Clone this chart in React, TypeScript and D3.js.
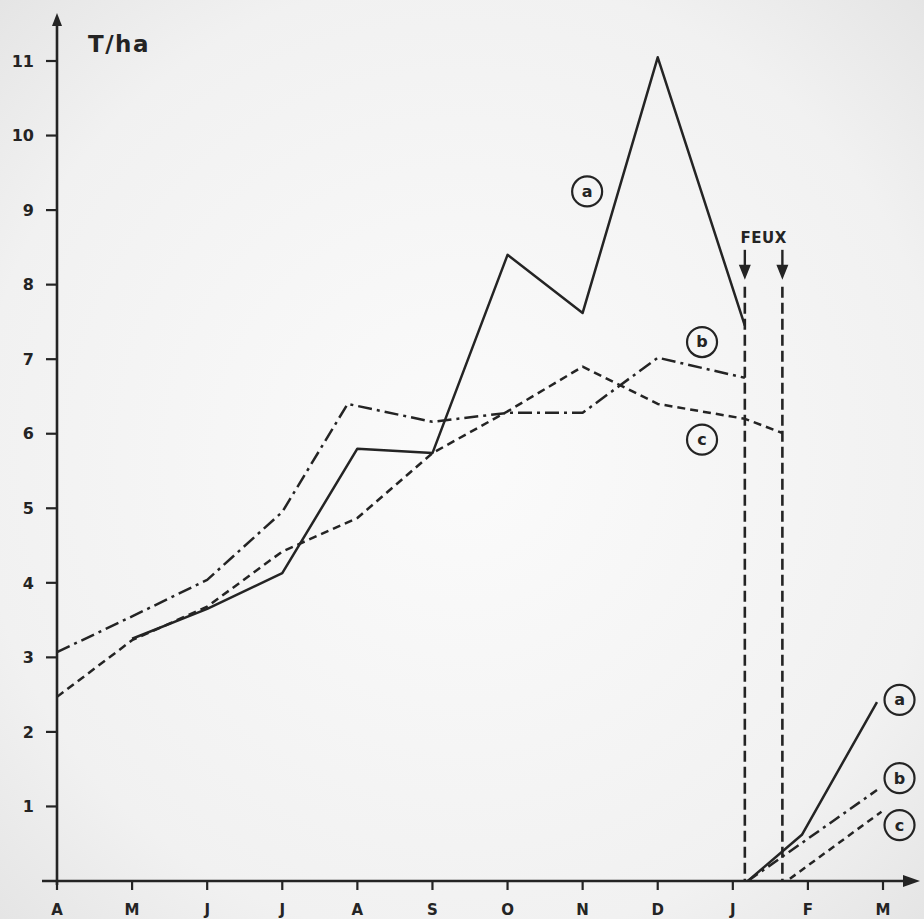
import React from 'react';
import * as d3 from 'd3';

// month labels on the x axis (April to March)
const months = ['A', 'M', 'J', 'J', 'A', 'S', 'O', 'N', 'D', 'J', 'F', 'M'];
const yTicks = [1, 2, 3, 4, 5, 6, 7, 8, 9, 10, 11];

// dates of the two fires, as month positions
const fireDates = [9.16, 9.66];

// series before the fires (x = month position, y = T/ha)
const aX = [1, 2, 3, 4, 5, 6, 7, 8, 9.16];
const aY = [3.25, 3.65, 4.13, 5.8, 5.74, 8.4, 7.62, 11.05, 7.45];
const bX = [0, 1, 2, 3, 3.87, 5, 6, 7, 8, 9.16];
const bY = [3.07, 3.55, 4.04, 4.95, 6.4, 6.16, 6.28, 6.28, 7.02, 6.75];
const cX = [0, 1, 2, 3, 4, 5, 6, 7, 8, 9.16, 9.66];
const cY = [2.47, 3.23, 3.68, 4.42, 4.87, 5.74, 6.3, 6.9, 6.4, 6.2, 6.01];

// regrowth after the fires
const a2X = [9.2, 9.92, 10.92];
const a2Y = [0, 0.62, 2.4];
const b2X = [9.2, 10.92];
const b2Y = [0, 1.22];
const c2X = [9.76, 10.98];
const c2Y = [0.03, 0.93];

// circled labels [letter, x, y]
const labels: [string, number, number][] = [
  ['a', 7.06, 9.25],
  ['b', 8.59, 7.23],
  ['c', 8.59, 5.92],
  ['a', 11.22, 2.43],
  ['b', 11.22, 1.38],
  ['c', 11.22, 0.75],
];

const W = 924;
const H = 919;
const ink = '#242424';
const font = '"DejaVu Sans", sans-serif';

export default function App() {
  const x = d3.scaleLinear().domain([0, 11]).range([57, 883]);
  const y = d3.scaleLinear().domain([0, 11]).range([881, 61]);

  const line = d3.line<[number, number]>()
    .x(d => x(d[0]))
    .y(d => y(d[1]));
  const path = (xs: number[], ys: number[]) => line(xs.map((v, i) => [v, ys[i]]) as [number, number][]) || '';

  const series = [
    { d: path(aX, aY), dash: undefined },
    { d: path(bX, bY), dash: '14,5,3,5' },
    { d: path(cX, cY), dash: '8,5' },
    { d: path(a2X, a2Y), dash: undefined },
    { d: path(b2X, b2Y), dash: '12,5,3,5' },
    { d: path(c2X, c2Y), dash: '7,5' },
  ];

  const y0 = y(0);
  const fireTop = y(8.4);

  return (
    <svg width={W} height={H} style={{ position: 'absolute', left: 0, top: 0 }}>
      <defs>
        <radialGradient id="paper" cx="50%" cy="50%" r="75%">
          <stop offset="0%" stopColor="#fbfbfb" />
          <stop offset="70%" stopColor="#f1f1f1" />
          <stop offset="100%" stopColor="#e2e2e2" />
        </radialGradient>
      </defs>
      <rect width={W} height={H} fill="url(#paper)" />

      {/* y axis */}
      <line x1={x(0)} x2={x(0)} y1={y0 + 4} y2={22} stroke={ink} strokeWidth={2.6} />
      <path d={`M${x(0) - 5},${26} L${x(0)},${13} L${x(0) + 5},${26} Z`} fill={ink} />
      {yTicks.map(t => (
        <g key={t}>
          <line x1={x(0) - 11} x2={x(0)} y1={y(t)} y2={y(t)} stroke={ink} strokeWidth={2.2} />
          <text x={x(0) - 23} y={y(t)} dy="0.36em" textAnchor="end" fontFamily={font}
            fontWeight="bold" fontSize={16} fill={ink}>{t}</text>
        </g>
      ))}
      <text x={88} y={52} fontFamily={font} fontWeight="bold" fontSize={23} fill={ink}
        letterSpacing={1.5}>T/ha</text>

      {/* x axis */}
      <line x1={42} x2={906} y1={y0} y2={y0} stroke={ink} strokeWidth={2.6} />
      <path d={`M${903},${y0 - 6} L${920},${y0} L${903},${y0 + 6} Z`} fill={ink} />
      {months.map((m, i) => (
        <g key={i}>
          <line x1={x(i)} x2={x(i)} y1={y0} y2={y0 + 9} stroke={ink} strokeWidth={2.2} />
          <text x={x(i)} y={915} textAnchor="middle" fontFamily={font} fontWeight="bold"
            fontSize={15} fill={ink}>{m}</text>
        </g>
      ))}

      {/* fires */}
      {fireDates.map((f, i) => (
        <g key={i}>
          <line x1={x(f)} x2={x(f)} y1={fireTop + 32} y2={y0} stroke={ink} strokeWidth={2.6}
            strokeDasharray="11,5" />
          <line x1={x(f)} x2={x(f)} y1={fireTop - 5} y2={fireTop + 12} stroke={ink} strokeWidth={2.4} />
          <path d={`M${x(f) - 6},${fireTop + 10} L${x(f)},${fireTop + 25} L${x(f) + 6},${fireTop + 10} Z`} fill={ink} />
        </g>
      ))}
      <text x={x(d3.mean(fireDates) as number)} y={fireTop - 12} textAnchor="middle" fontFamily={font}
        fontWeight="bold" fontSize={15} fill={ink} letterSpacing={0.5}>FEUX</text>

      {/* series */}
      {series.map((s, i) => (
        <path key={i} d={s.d} fill="none" stroke={ink} strokeWidth={2.5}
          strokeDasharray={s.dash} strokeLinejoin="round" />
      ))}

      {/* circled labels */}
      {labels.map(([l, lx, ly], i) => (
        <g key={i} transform={`translate(${x(lx)},${y(ly)})`}>
          <circle r={15} fill="none" stroke={ink} strokeWidth={2.2} />
          <text dy="0.34em" textAnchor="middle" fontFamily={font} fontWeight="bold" fontSize={16}
            fill={ink}>{l}</text>
        </g>
      ))}
    </svg>
  );
}
